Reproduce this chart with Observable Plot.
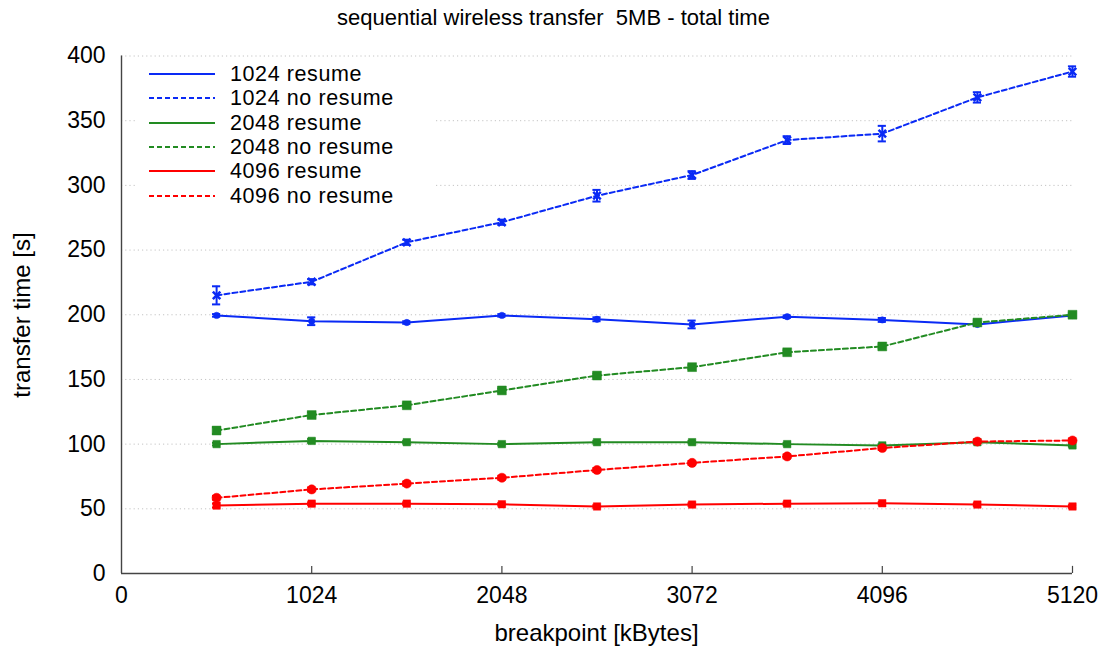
<!DOCTYPE html>
<html><head><meta charset="utf-8">
<script src="https://cdn.jsdelivr.net/npm/d3@7"></script>
<script src="https://cdn.jsdelivr.net/npm/@observablehq/plot@0.6"></script>
<style>
body{margin:0;background:#fff;font-family:"Liberation Sans",Arial,sans-serif;color:#000}
#wrap{position:relative;width:1107px;height:648px;overflow:hidden}
#title{height:36px;line-height:36px;text-align:center;font-size:22px;white-space:pre}
#legend{position:absolute;left:135px;top:60px;width:298px;height:148px;background:#fff}
.lrow{position:absolute;left:0;height:24px;width:298px}
.lrow svg{position:absolute;left:14px;top:0}
.lrow span{position:absolute;left:95px;top:0;line-height:24px;font-size:21.5px;letter-spacing:0.6px;white-space:pre}
#xlabel{position:absolute;left:0;width:1193px;top:620px;text-align:center;font-size:24px;line-height:26px}
#ylabel{position:absolute;left:22px;top:315px;font-size:24px;white-space:pre;transform:translate(-50%,-50%) rotate(-90deg)}
</style></head>
<body>
<div id="wrap">
<div id="title">sequential wireless transfer  5MB - total time</div>
<div id="chart"></div>
<div id="legend"></div>
<div id="xlabel">breakpoint [kBytes]</div>
<div id="ylabel">transfer time [s]</div>
</div>
<script>
const breakpoints = [512, 1024, 1536, 2048, 2560, 3072, 3584, 4096, 4608, 5120];
const xTicks = [0, 1024, 2048, 3072, 4096, 5120];
const yTicks = [0, 50, 100, 150, 200, 250, 300, 350, 400];

const resume1024   = [199.5, 195, 194, 199.5, 196.5, 192.5, 198.5, 196, 192.5, 199.5];
const noResume1024 = [215, 225.5, 256, 271.5, 292, 308, 335, 340, 368, 388];
const resume2048   = [100, 102.5, 101.5, 100, 101.5, 101.5, 100, 99, 101.5, 99];
const noResume2048 = [110.5, 122.5, 130, 141.5, 153, 159.5, 171, 175.5, 194, 200];
const resume4096   = [52.5, 54, 54, 53.5, 51.8, 53.3, 54, 54.3, 53.3, 51.8];
const noResume4096 = [58.5, 65, 69.5, 74, 80, 85.5, 90.5, 97, 102, 102.8];

const errResume1024   = [1, 3, 1, 1, 1.5, 3, 1, 1.5, 1, 1];
const errNoResume1024 = [7, 2, 2, 2, 4.5, 3, 3, 6, 4, 4];
const errResume2048   = [1, 1.5, 1, 1, 1, 1, 1, 1, 1, 1];
const errNoResume2048 = [2.5, 2, 1.5, 1.5, 1.5, 1.5, 1.5, 1.5, 1.5, 1.5];
const errResume4096   = [1.5, 1, 1, 1, 1, 1, 1, 1, 1, 1];
const errNoResume4096 = [1.5, 1.5, 1.5, 1.5, 1.5, 1.5, 1.5, 1.5, 1.5, 1.5];

const seriesNames = ["1024 resume", "1024 no resume", "2048 resume", "2048 no resume", "4096 resume", "4096 no resume"];
const seriesValues = [resume1024, noResume1024, resume2048, noResume2048, resume4096, noResume4096];
const seriesErrors = [errResume1024, errNoResume1024, errResume2048, errNoResume2048, errResume4096, errNoResume4096];
const seriesColors = ["#0a2af5", "#0a2af5", "#228b22", "#228b22", "#ff0000", "#ff0000"];
const seriesDashed = [false, true, false, true, false, true];
const seriesSymbols = ["circle", "times", "square", "square", "square", "circle"];
const seriesR = [3.2, 3.5, 4.2, 5, 4.2, 4.6];

const dash = "5,3";
const capHalf = 22;

const marks = [
  Plot.ruleY(yTicks.filter(v => v > 0), {x1: 0, x2: 5120, stroke: "#c4c4c4", strokeWidth: 1, strokeDasharray: "1.2,3"}),
  Plot.axisX({ticks: xTicks, tickSize: 0, tickPadding: 13, label: null, fontSize: 23, tickFormat: d => String(d)}),
  Plot.axisY({ticks: yTicks, tickSize: 0, tickPadding: 16, label: null, fontSize: 23, tickFormat: d => String(d)}),
  Plot.ruleX(xTicks.filter(v => v > 0), {y1: 0, y2: 5.5, stroke: "#444", strokeWidth: 1.2}),
  Plot.ruleY([0], {x1: 0, x2: 5120, stroke: "#444", strokeWidth: 1.4}),
  Plot.ruleX([0], {y1: 0, y2: 400, stroke: "#444", strokeWidth: 1.4})
];

seriesNames.forEach((name, i) => {
  const rows = breakpoints.map((x, j) => ({x, y: seriesValues[i][j], e: seriesErrors[i][j]}));
  const color = seriesColors[i];
  marks.push(
    Plot.line(rows, {x: "x", y: "y", stroke: color, strokeWidth: 2, strokeDasharray: seriesDashed[i] ? dash : null}),
    Plot.ruleX(rows, {x: "x", y1: d => d.y - d.e, y2: d => d.y + d.e, stroke: color, strokeWidth: 2}),
    Plot.ruleY(rows, {y: d => d.y - d.e, x1: d => d.x - capHalf, x2: d => d.x + capHalf, stroke: color, strokeWidth: 2}),
    Plot.ruleY(rows, {y: d => d.y + d.e, x1: d => d.x - capHalf, x2: d => d.x + capHalf, stroke: color, strokeWidth: 2}),
    seriesSymbols[i] === "times"
      ? Plot.dot(rows, {x: "x", y: "y", symbol: "times", r: seriesR[i], stroke: color, strokeWidth: 2.5})
      : Plot.dot(rows, {x: "x", y: "y", symbol: seriesSymbols[i], r: seriesR[i], fill: color, stroke: color, strokeWidth: 0.5})
  );
});

const chart = Plot.plot({
  width: 1107,
  height: 612,
  marginTop: 19.5,
  marginBottom: 75,
  marginLeft: 121,
  marginRight: 35,
  x: {domain: [0, 5120]},
  y: {domain: [0, 400]},
  style: {fontFamily: "'Liberation Sans', Arial, sans-serif", fontSize: "23px", color: "#000", background: "#fff"},
  marks
});
document.getElementById("chart").appendChild(chart);

const legend = d3.select("#legend");
const rowTops = [2, 26.3, 50.6, 74.9, 99.2, 123.5];
seriesNames.forEach((name, i) => {
  const row = legend.append("div").attr("class", "lrow").style("top", (rowTops[i]) + "px");
  const svg = row.append("svg").attr("width", 66).attr("height", 24);
  svg.append("line").attr("x1", 0).attr("x2", 66).attr("y1", 12).attr("y2", 12)
    .attr("stroke", seriesColors[i]).attr("stroke-width", 2)
    .attr("stroke-dasharray", seriesDashed[i] ? dash : null);
  row.append("span").text(name);
});
</script>
</body></html>
